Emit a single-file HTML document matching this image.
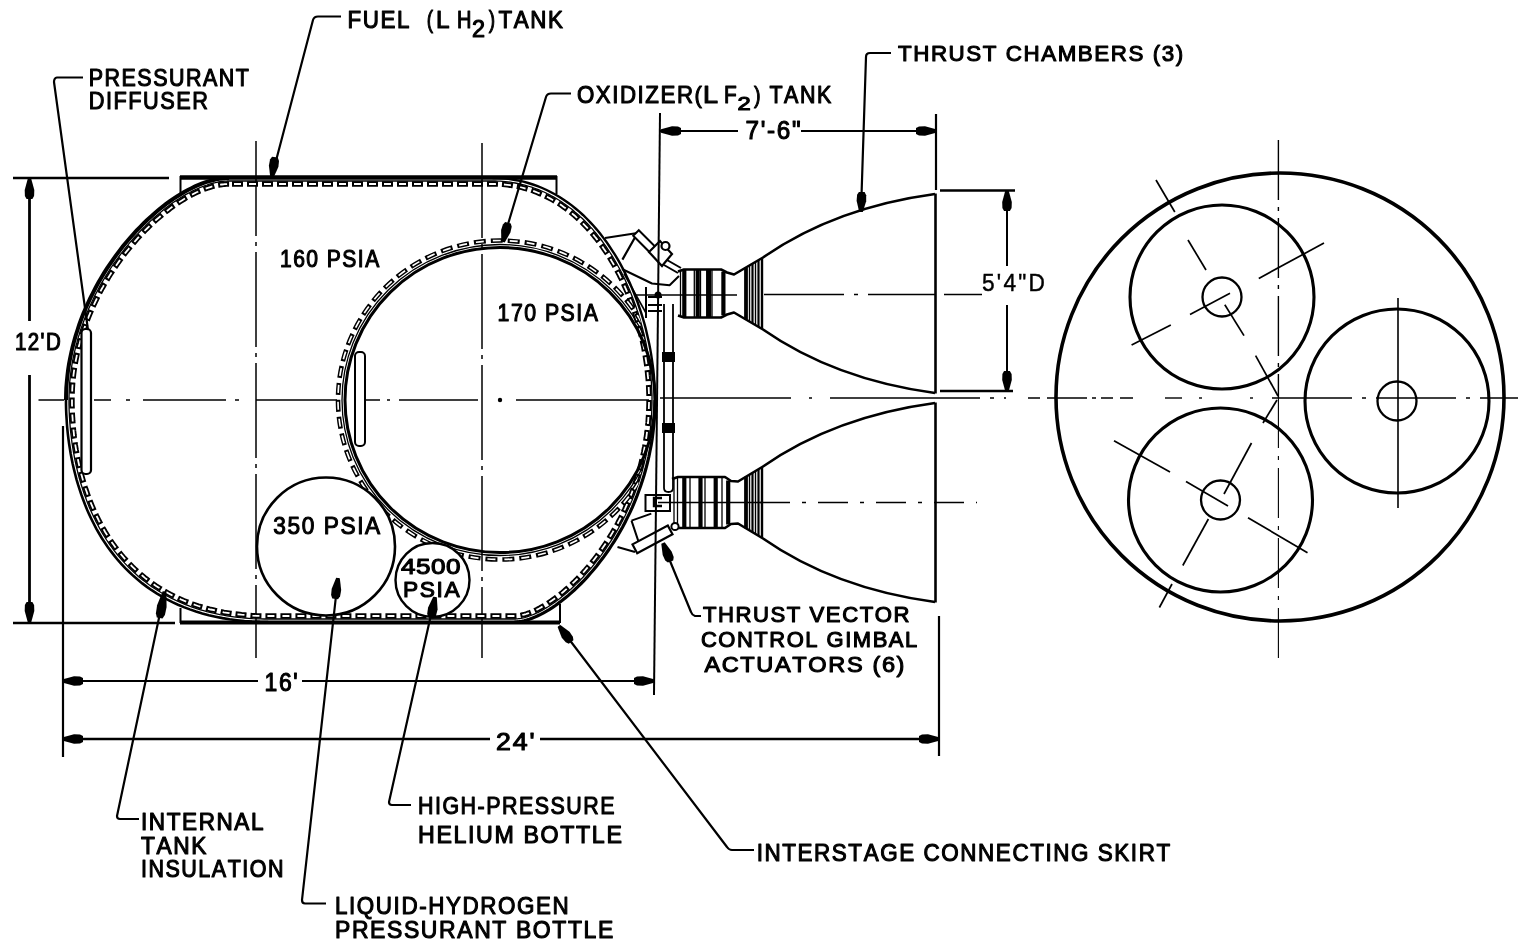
<!DOCTYPE html><html><head><meta charset="utf-8"><style>html,body{margin:0;padding:0;background:#fff;width:1523px;height:944px;overflow:hidden}svg{display:block;filter:grayscale(1)}text{font-family:"Liberation Sans",sans-serif;fill:#000;font-kerning:none;stroke:#000;stroke-width:0.1px}text.t{stroke-width:1.1px;stroke-linejoin:round}text.n{stroke-width:0.45px}</style></head><body>
<svg width="1523" height="944" viewBox="0 0 1523 944">
<defs><clipPath id="tk"><path d="M229.0 181.0 L227.5 181.0 L226.1 181.1 L224.6 181.2 L223.0 181.3 L221.5 181.5 L219.9 181.7 L218.4 182.0 L216.8 182.3 L215.2 182.7 L213.6 183.0 L211.9 183.5 L210.3 183.9 L208.6 184.4 L207.0 185.0 L205.3 185.5 L203.6 186.2 L201.9 186.8 L200.1 187.5 L198.4 188.3 L196.7 189.0 L194.9 189.8 L193.2 190.7 L191.4 191.6 L189.7 192.5 L187.9 193.4 L186.1 194.4 L184.3 195.4 L182.5 196.5 L180.7 197.6 L179.0 198.7 L177.2 199.9 L175.4 201.1 L173.5 202.3 L171.7 203.6 L169.9 204.9 L168.1 206.2 L166.3 207.6 L164.5 209.0 L162.7 210.4 L160.9 211.9 L159.1 213.4 L157.3 214.9 L155.5 216.4 L153.7 218.0 L152.0 219.6 L150.2 221.3 L148.4 222.9 L146.6 224.6 L144.9 226.4 L143.1 228.1 L141.4 229.9 L139.7 231.7 L137.9 233.6 L136.2 235.4 L134.5 237.3 L132.8 239.2 L131.1 241.2 L129.4 243.2 L127.8 245.2 L126.1 247.2 L124.5 249.2 L122.9 251.3 L121.3 253.4 L119.7 255.5 L118.1 257.7 L116.5 259.8 L115.0 262.0 L113.4 264.2 L111.9 266.5 L110.4 268.7 L108.9 271.0 L107.5 273.3 L106.0 275.6 L104.6 278.0 L103.2 280.3 L101.8 282.7 L100.4 285.1 L99.1 287.6 L97.8 290.0 L96.5 292.5 L95.2 294.9 L94.0 297.4 L92.8 300.0 L91.6 302.5 L90.4 305.1 L89.2 307.6 L88.1 310.2 L87.0 312.8 L85.9 315.4 L84.9 318.1 L83.9 320.7 L82.9 323.4 L81.9 326.1 L81.0 328.8 L80.1 331.5 L79.3 334.2 L78.4 336.9 L77.6 339.7 L76.9 342.5 L76.1 345.2 L75.4 348.0 L74.8 350.8 L74.1 353.6 L73.5 356.5 L72.9 359.3 L72.4 362.1 L71.9 365.0 L71.5 367.9 L71.0 370.7 L70.7 373.6 L70.3 376.5 L70.0 379.4 L69.7 382.3 L69.5 385.3 L69.3 388.2 L69.2 391.1 L69.1 394.1 L69.0 397.0 L69.0 400.0 L69.0 402.3 L69.0 404.6 L69.1 406.9 L69.1 409.2 L69.2 411.5 L69.3 413.9 L69.4 416.2 L69.6 418.6 L69.7 421.0 L69.9 423.4 L70.1 425.8 L70.3 428.2 L70.5 430.6 L70.8 433.1 L71.1 435.5 L71.4 438.0 L71.7 440.4 L72.0 442.9 L72.4 445.4 L72.8 447.8 L73.2 450.3 L73.6 452.8 L74.1 455.3 L74.5 457.8 L75.0 460.3 L75.6 462.8 L76.1 465.3 L76.7 467.8 L77.3 470.3 L77.9 472.8 L78.5 475.3 L79.2 477.8 L79.9 480.3 L80.6 482.8 L81.4 485.3 L82.2 487.7 L83.0 490.2 L83.8 492.7 L84.7 495.2 L85.6 497.6 L86.5 500.1 L87.4 502.5 L88.4 504.9 L89.4 507.4 L90.4 509.8 L91.5 512.2 L92.6 514.6 L93.7 517.0 L94.9 519.3 L96.0 521.7 L97.3 524.0 L98.5 526.3 L99.8 528.7 L101.1 530.9 L102.4 533.2 L103.8 535.5 L105.2 537.7 L106.6 540.0 L108.1 542.2 L109.6 544.4 L111.2 546.5 L112.7 548.7 L114.3 550.8 L116.0 552.9 L117.6 555.0 L119.4 557.1 L121.1 559.1 L122.9 561.1 L124.7 563.1 L126.6 565.1 L128.4 567.1 L130.4 569.0 L132.3 570.9 L134.3 572.7 L136.4 574.6 L138.4 576.4 L140.6 578.2 L142.7 579.9 L144.9 581.6 L147.1 583.3 L149.4 585.0 L151.7 586.6 L154.1 588.2 L156.5 589.8 L158.9 591.3 L161.4 592.8 L163.9 594.2 L166.4 595.7 L169.0 597.0 L171.7 598.4 L174.4 599.7 L177.1 601.0 L179.8 602.2 L182.7 603.4 L185.5 604.6 L188.4 605.7 L191.4 606.8 L194.4 607.8 L197.4 608.8 L200.5 609.8 L203.6 610.7 L206.8 611.6 L210.0 612.4 L213.3 613.2 L216.6 613.9 L220.0 614.6 L223.4 615.2 L226.8 615.8 L230.3 616.4 L233.9 616.8 L237.5 617.3 L241.2 617.7 L244.9 618.0 L248.6 618.3 L252.5 618.6 L256.3 618.8 L260.2 618.9 L264.2 619.0 L268.2 619.0 L272.4 619.0 L276.5 619.0 L280.7 619.0 L284.9 619.0 L289.1 619.0 L293.2 619.0 L297.4 619.0 L301.6 619.0 L305.8 619.0 L309.9 619.0 L314.1 619.0 L318.3 619.0 L322.5 619.0 L326.6 619.0 L330.8 619.0 L335.0 619.0 L339.2 619.0 L343.3 619.0 L347.5 619.0 L351.7 619.0 L355.9 619.0 L360.0 619.0 L364.2 619.0 L368.4 619.0 L372.6 619.0 L376.7 619.0 L380.9 619.0 L385.1 619.0 L389.3 619.0 L393.4 619.0 L397.6 619.0 L401.8 619.0 L406.0 619.0 L410.1 619.0 L414.3 619.0 L418.5 619.0 L422.7 619.0 L426.8 619.0 L431.0 619.0 L435.2 619.0 L439.4 619.0 L443.5 619.0 L447.7 619.0 L451.9 619.0 L456.1 619.0 L460.2 619.0 L464.4 619.0 L468.6 619.0 L472.8 619.0 L476.9 619.0 L481.1 619.0 L485.3 619.0 L489.5 619.0 L493.6 619.0 L497.8 619.0 L502.0 619.0 L506.2 619.0 L510.3 619.0 L514.5 619.0 L515.5 619.0 L516.6 618.9 L517.6 618.8 L518.7 618.7 L519.8 618.6 L521.0 618.4 L522.2 618.1 L523.3 617.9 L524.6 617.6 L525.8 617.2 L527.0 616.8 L528.3 616.4 L529.6 616.0 L530.9 615.5 L532.2 615.0 L533.6 614.4 L534.9 613.8 L536.3 613.2 L537.7 612.6 L539.1 611.9 L540.5 611.1 L541.9 610.4 L543.3 609.6 L544.8 608.7 L546.2 607.9 L547.7 607.0 L549.2 606.0 L550.7 605.0 L552.2 604.0 L553.7 603.0 L555.2 601.9 L556.7 600.8 L558.2 599.7 L559.8 598.5 L561.3 597.3 L562.8 596.1 L564.4 594.8 L565.9 593.5 L567.5 592.2 L569.0 590.8 L570.6 589.5 L572.1 588.0 L573.7 586.6 L575.2 585.1 L576.8 583.6 L578.3 582.0 L579.9 580.5 L581.4 578.9 L583.0 577.2 L584.5 575.6 L586.0 573.9 L587.6 572.1 L589.1 570.4 L590.6 568.6 L592.1 566.8 L593.6 565.0 L595.1 563.1 L596.6 561.2 L598.1 559.3 L599.6 557.3 L601.1 555.4 L602.5 553.4 L604.0 551.3 L605.4 549.3 L606.8 547.2 L608.2 545.1 L609.6 542.9 L611.0 540.8 L612.4 538.6 L613.8 536.4 L615.1 534.1 L616.4 531.9 L617.7 529.6 L619.0 527.2 L620.3 524.9 L621.6 522.5 L622.8 520.1 L624.0 517.7 L625.3 515.3 L626.4 512.8 L627.6 510.3 L628.8 507.8 L629.9 505.3 L631.0 502.7 L632.1 500.2 L633.1 497.6 L634.2 494.9 L635.2 492.3 L636.2 489.6 L637.1 486.9 L638.1 484.2 L639.0 481.5 L639.9 478.7 L640.7 475.9 L641.6 473.1 L642.4 470.3 L643.1 467.5 L643.9 464.6 L644.6 461.7 L645.3 458.8 L646.0 455.9 L646.6 452.9 L647.2 450.0 L647.7 447.0 L648.3 444.0 L648.8 441.0 L649.2 437.9 L649.7 434.9 L650.1 431.8 L650.4 428.7 L650.8 425.6 L651.0 422.4 L651.3 419.3 L651.5 416.1 L651.7 412.9 L651.8 409.7 L651.9 406.5 L652.0 403.3 L652.0 400.0 L652.0 397.6 L652.0 395.1 L651.9 392.7 L651.8 390.2 L651.7 387.7 L651.6 385.2 L651.4 382.8 L651.2 380.3 L651.0 377.8 L650.8 375.2 L650.6 372.7 L650.3 370.2 L650.0 367.7 L649.7 365.1 L649.3 362.6 L649.0 360.0 L648.6 357.5 L648.2 355.0 L647.8 352.4 L647.3 349.8 L646.8 347.3 L646.3 344.7 L645.8 342.2 L645.2 339.6 L644.7 337.1 L644.1 334.5 L643.4 332.0 L642.8 329.5 L642.1 326.9 L641.4 324.4 L640.7 321.9 L640.0 319.3 L639.2 316.8 L638.5 314.3 L637.7 311.8 L636.8 309.3 L636.0 306.8 L635.1 304.3 L634.2 301.8 L633.3 299.4 L632.4 296.9 L631.4 294.5 L630.4 292.1 L629.4 289.6 L628.4 287.2 L627.3 284.8 L626.3 282.5 L625.2 280.1 L624.1 277.7 L622.9 275.4 L621.8 273.1 L620.6 270.8 L619.4 268.5 L618.1 266.2 L616.9 264.0 L615.6 261.7 L614.3 259.5 L613.0 257.3 L611.7 255.2 L610.3 253.0 L608.9 250.9 L607.5 248.8 L606.1 246.7 L604.6 244.6 L603.2 242.6 L601.7 240.5 L600.2 238.5 L598.6 236.6 L597.1 234.6 L595.5 232.7 L593.9 230.8 L592.3 228.9 L590.6 227.1 L589.0 225.3 L587.3 223.5 L585.6 221.8 L583.9 220.0 L582.1 218.3 L580.3 216.7 L578.5 215.0 L576.7 213.4 L574.9 211.9 L573.1 210.3 L571.2 208.8 L569.3 207.4 L567.4 205.9 L565.4 204.5 L563.5 203.2 L561.5 201.8 L559.5 200.5 L557.5 199.3 L555.5 198.1 L553.4 196.9 L551.3 195.7 L549.2 194.6 L547.1 193.6 L545.0 192.5 L542.8 191.5 L540.6 190.6 L538.4 189.7 L536.2 188.8 L533.9 188.0 L531.7 187.2 L529.4 186.5 L527.1 185.8 L524.8 185.2 L522.4 184.6 L520.0 184.0 L517.6 183.5 L515.2 183.0 L512.8 182.6 L510.4 182.2 L507.9 181.9 L505.4 181.6 L502.9 181.4 L500.3 181.2 L497.8 181.1 L495.2 181.0 L492.6 181.0 L488.1 181.0 L483.7 181.0 L479.2 181.0 L474.7 181.0 L470.3 181.0 L465.8 181.0 L461.3 181.0 L456.9 181.0 L452.4 181.0 L447.9 181.0 L443.5 181.0 L439.0 181.0 L434.5 181.0 L430.1 181.0 L425.6 181.0 L421.1 181.0 L416.6 181.0 L412.2 181.0 L407.7 181.0 L403.2 181.0 L398.8 181.0 L394.3 181.0 L389.8 181.0 L385.4 181.0 L380.9 181.0 L376.4 181.0 L372.0 181.0 L367.5 181.0 L363.0 181.0 L358.6 181.0 L354.1 181.0 L349.6 181.0 L345.2 181.0 L340.7 181.0 L336.2 181.0 L331.8 181.0 L327.3 181.0 L322.8 181.0 L318.4 181.0 L313.9 181.0 L309.4 181.0 L305.0 181.0 L300.5 181.0 L296.0 181.0 L291.5 181.0 L287.1 181.0 L282.6 181.0 L278.1 181.0 L273.7 181.0 L269.2 181.0 L264.7 181.0 L260.3 181.0 L255.8 181.0 L251.3 181.0 L246.9 181.0 L242.4 181.0 L237.9 181.0 L233.5 181.0 L229.0 181.0 Z"/></clipPath></defs>
<rect width="100%" height="100%" fill="#fff"/>
<g stroke="#000" fill="none" stroke-linecap="butt">
<path d="M38.5 400 H64 M94 400 H111 M126 400 H130 M143 400 H226 M235 400 H239 M256 400 H337 M365 400 H380 M387 400 H390 M399 400 H478 M516 400 H649" stroke-width="1.6"/>
<circle cx="500" cy="400" r="2.2" fill="#000" stroke="none"/>
<line x1="660.0" y1="398.0" x2="791.0" y2="398.0" stroke-width="1.5"/>
<line x1="809.0" y1="398.0" x2="812.0" y2="398.0" stroke-width="1.5"/>
<line x1="830.0" y1="398.0" x2="1006.0" y2="398.0" stroke-width="1.5" stroke-dasharray="150 10 4 10"/>
<line x1="1028.0" y1="398.0" x2="1133.0" y2="398.0" stroke-width="1.4" stroke-dasharray="12 7 40 5 4 5"/>
<line x1="1165.0" y1="398.0" x2="1182.0" y2="398.0" stroke-width="1.4"/>
<line x1="1199.0" y1="398.0" x2="1202.0" y2="398.0" stroke-width="1.4"/>
<line x1="1250.0" y1="398.0" x2="1253.0" y2="398.0" stroke-width="1.4"/>
<line x1="1272.0" y1="398.0" x2="1518.0" y2="398.0" stroke-width="1.4" stroke-dasharray="80 10 4 10"/>
<line x1="256.0" y1="141.0" x2="256.0" y2="658.0" stroke-width="1.5" stroke-dasharray="95 6 4 6"/>
<line x1="482.0" y1="143.0" x2="482.0" y2="658.0" stroke-width="1.5" stroke-dasharray="95 6 4 6"/>
<line x1="944.0" y1="294.5" x2="982.0" y2="294.5" stroke-width="1.6"/>
<line x1="764.0" y1="294.5" x2="935.0" y2="294.5" stroke-width="1.4" stroke-dasharray="80 10 4 10"/>
<line x1="760.0" y1="502.5" x2="977.0" y2="502.5" stroke-width="1.6" stroke-dasharray="30 12 4 12"/>
<line x1="180.0" y1="177.5" x2="557.0" y2="177.5" stroke-width="4.5"/>
<line x1="180.0" y1="622.5" x2="560.0" y2="622.5" stroke-width="4.0"/>
<line x1="180.5" y1="176.0" x2="180.5" y2="195.0" stroke-width="2.0"/>
<line x1="556.5" y1="176.0" x2="556.5" y2="194.0" stroke-width="2.0"/>
<line x1="180.5" y1="623.0" x2="180.5" y2="608.0" stroke-width="2.0"/>
<line x1="560.0" y1="623.0" x2="560.0" y2="604.0" stroke-width="2.0"/>
<path d="M229.0 178.0 L225.9 178.1 L222.7 178.4 L219.4 178.8 L216.1 179.4 L212.7 180.2 L209.3 181.1 L205.8 182.2 L202.3 183.4 L198.7 184.9 L195.1 186.4 L191.5 188.2 L187.9 190.0 L184.2 192.0 L180.6 194.2 L176.9 196.5 L173.2 198.9 L169.5 201.5 L165.8 204.2 L162.1 207.1 L158.4 210.0 L154.7 213.2 L151.1 216.4 L147.4 219.7 L143.8 223.2 L140.3 226.8 L136.7 230.5 L133.2 234.3 L129.7 238.2 L126.3 242.2 L122.9 246.3 L119.6 250.6 L116.4 254.9 L113.2 259.3 L110.1 263.8 L107.0 268.4 L104.0 273.1 L101.1 277.9 L98.3 282.8 L95.6 287.8 L93.0 292.8 L90.4 297.9 L88.0 303.1 L85.7 308.3 L83.4 313.6 L81.3 319.0 L79.3 324.5 L77.5 330.0 L75.7 335.6 L74.1 341.2 L72.6 346.9 L71.3 352.6 L70.1 358.4 L69.0 364.2 L68.1 370.1 L67.4 376.0 L66.8 381.9 L66.3 387.9 L66.1 393.9 L66.0 400.0" stroke-width="4"/>
<path d="M66.0 400.0 L66.0 404.6 L66.1 409.3 L66.3 414.1 L66.6 418.9 L66.9 423.8 L67.3 428.7 L67.8 433.7 L68.4 438.7 L69.1 443.7 L69.9 448.7 L70.7 453.8 L71.7 458.9 L72.7 464.0 L73.9 469.1 L75.2 474.2 L76.5 479.3 L78.0 484.4 L79.6 489.4 L81.3 494.5 L83.1 499.5 L85.0 504.5 L87.0 509.4 L89.2 514.4 L91.5 519.2 L93.9 524.0 L96.4 528.8 L99.1 533.5 L101.9 538.2 L104.9 542.7 L107.9 547.2 L111.2 551.6 L114.5 555.9 L118.0 560.2 L121.7 564.3 L125.5 568.4 L129.5 572.3 L133.6 576.1 L137.9 579.8 L142.3 583.4 L146.9 586.9 L151.7 590.2 L156.6 593.4 L161.7 596.4 L167.0 599.4 L172.4 602.1 L178.0 604.7 L183.8 607.1 L189.8 609.4 L196.0 611.5 L202.3 613.4 L208.8 615.2 L215.6 616.7 L222.5 618.1 L229.6 619.3 L236.9 620.2 L244.4 621.0 L252.2 621.6 L260.1 621.9 L268.2 622.0" stroke-width="2.6"/>
<path d="M655.0 400.0 L655.0 395.0 L654.8 390.0 L654.6 385.0 L654.2 379.9 L653.8 374.7 L653.3 369.6 L652.6 364.4 L651.9 359.3 L651.1 354.1 L650.2 348.9 L649.2 343.7 L648.0 338.5 L646.8 333.3 L645.6 328.1 L644.2 322.9 L642.7 317.8 L641.1 312.7 L639.4 307.6 L637.7 302.5 L635.8 297.5 L633.8 292.5 L631.8 287.6 L629.7 282.7 L627.4 277.9 L625.1 273.1 L622.7 268.4 L620.2 263.7 L617.6 259.2 L614.9 254.7 L612.1 250.3 L609.2 246.0 L606.3 241.7 L603.2 237.6 L600.1 233.6 L596.8 229.6 L593.5 225.8 L590.1 222.1 L586.6 218.5 L583.0 215.0 L579.3 211.7 L575.5 208.5 L571.7 205.4 L567.7 202.5 L563.7 199.7 L559.5 197.0 L555.3 194.5 L551.0 192.2 L546.6 190.0 L542.2 188.0 L537.6 186.2 L532.9 184.5 L528.2 183.0 L523.4 181.7 L518.5 180.6 L513.5 179.7 L508.4 178.9 L503.2 178.4 L497.9 178.1 L492.6 178.0" stroke-width="2.4"/>
<path d="M514.5 622.0 L516.8 621.9 L519.1 621.7 L521.6 621.3 L524.1 620.8 L526.7 620.1 L529.4 619.2 L532.1 618.2 L534.9 617.1 L537.8 615.8 L540.7 614.4 L543.6 612.8 L546.6 611.1 L549.6 609.3 L552.7 607.3 L555.8 605.2 L558.9 602.9 L562.0 600.6 L565.2 598.0 L568.4 595.4 L571.5 592.6 L574.7 589.7 L577.9 586.7 L581.1 583.5 L584.2 580.3 L587.4 576.9 L590.5 573.3 L593.6 569.7 L596.7 566.0 L599.7 562.1 L602.8 558.1 L605.7 554.0 L608.7 549.8 L611.5 545.5 L614.4 541.1 L617.1 536.6 L619.8 531.9 L622.5 527.2 L625.0 522.4 L627.5 517.4 L630.0 512.4 L632.3 507.3 L634.5 502.1 L636.7 496.7 L638.7 491.3 L640.7 485.8 L642.5 480.2 L644.3 474.5 L645.9 468.8 L647.4 462.9 L648.8 457.0 L650.0 451.0 L651.2 444.9 L652.2 438.7 L653.0 432.4 L653.7 426.1 L654.3 419.7 L654.7 413.2 L654.9 406.6 L655.0 400.0" stroke-width="3.2"/>
<path d="M229.0 181.0 L227.5 181.0 L226.1 181.1 L224.6 181.2 L223.0 181.3 L221.5 181.5 L219.9 181.7 L218.4 182.0 L216.8 182.3 L215.2 182.7 L213.6 183.0 L211.9 183.5 L210.3 183.9 L208.6 184.4 L207.0 185.0 L205.3 185.5 L203.6 186.2 L201.9 186.8 L200.1 187.5 L198.4 188.3 L196.7 189.0 L194.9 189.8 L193.2 190.7 L191.4 191.6 L189.7 192.5 L187.9 193.4 L186.1 194.4 L184.3 195.4 L182.5 196.5 L180.7 197.6 L179.0 198.7 L177.2 199.9 L175.4 201.1 L173.5 202.3 L171.7 203.6 L169.9 204.9 L168.1 206.2 L166.3 207.6 L164.5 209.0 L162.7 210.4 L160.9 211.9 L159.1 213.4 L157.3 214.9 L155.5 216.4 L153.7 218.0 L152.0 219.6 L150.2 221.3 L148.4 222.9 L146.6 224.6 L144.9 226.4 L143.1 228.1 L141.4 229.9 L139.7 231.7 L137.9 233.6 L136.2 235.4 L134.5 237.3 L132.8 239.2 L131.1 241.2 L129.4 243.2 L127.8 245.2 L126.1 247.2 L124.5 249.2 L122.9 251.3 L121.3 253.4 L119.7 255.5 L118.1 257.7 L116.5 259.8 L115.0 262.0 L113.4 264.2 L111.9 266.5 L110.4 268.7 L108.9 271.0 L107.5 273.3 L106.0 275.6 L104.6 278.0 L103.2 280.3 L101.8 282.7 L100.4 285.1 L99.1 287.6 L97.8 290.0 L96.5 292.5 L95.2 294.9 L94.0 297.4 L92.8 300.0 L91.6 302.5 L90.4 305.1 L89.2 307.6 L88.1 310.2 L87.0 312.8 L85.9 315.4 L84.9 318.1 L83.9 320.7 L82.9 323.4 L81.9 326.1 L81.0 328.8 L80.1 331.5 L79.3 334.2 L78.4 336.9 L77.6 339.7 L76.9 342.5 L76.1 345.2 L75.4 348.0 L74.8 350.8 L74.1 353.6 L73.5 356.5 L72.9 359.3 L72.4 362.1 L71.9 365.0 L71.5 367.9 L71.0 370.7 L70.7 373.6 L70.3 376.5 L70.0 379.4 L69.7 382.3 L69.5 385.3 L69.3 388.2 L69.2 391.1 L69.1 394.1 L69.0 397.0 L69.0 400.0 L69.0 402.3 L69.0 404.6 L69.1 406.9 L69.1 409.2 L69.2 411.5 L69.3 413.9 L69.4 416.2 L69.6 418.6 L69.7 421.0 L69.9 423.4 L70.1 425.8 L70.3 428.2 L70.5 430.6 L70.8 433.1 L71.1 435.5 L71.4 438.0 L71.7 440.4 L72.0 442.9 L72.4 445.4 L72.8 447.8 L73.2 450.3 L73.6 452.8 L74.1 455.3 L74.5 457.8 L75.0 460.3 L75.6 462.8 L76.1 465.3 L76.7 467.8 L77.3 470.3 L77.9 472.8 L78.5 475.3 L79.2 477.8 L79.9 480.3 L80.6 482.8 L81.4 485.3 L82.2 487.7 L83.0 490.2 L83.8 492.7 L84.7 495.2 L85.6 497.6 L86.5 500.1 L87.4 502.5 L88.4 504.9 L89.4 507.4 L90.4 509.8 L91.5 512.2 L92.6 514.6 L93.7 517.0 L94.9 519.3 L96.0 521.7 L97.3 524.0 L98.5 526.3 L99.8 528.7 L101.1 530.9 L102.4 533.2 L103.8 535.5 L105.2 537.7 L106.6 540.0 L108.1 542.2 L109.6 544.4 L111.2 546.5 L112.7 548.7 L114.3 550.8 L116.0 552.9 L117.6 555.0 L119.4 557.1 L121.1 559.1 L122.9 561.1 L124.7 563.1 L126.6 565.1 L128.4 567.1 L130.4 569.0 L132.3 570.9 L134.3 572.7 L136.4 574.6 L138.4 576.4 L140.6 578.2 L142.7 579.9 L144.9 581.6 L147.1 583.3 L149.4 585.0 L151.7 586.6 L154.1 588.2 L156.5 589.8 L158.9 591.3 L161.4 592.8 L163.9 594.2 L166.4 595.7 L169.0 597.0 L171.7 598.4 L174.4 599.7 L177.1 601.0 L179.8 602.2 L182.7 603.4 L185.5 604.6 L188.4 605.7 L191.4 606.8 L194.4 607.8 L197.4 608.8 L200.5 609.8 L203.6 610.7 L206.8 611.6 L210.0 612.4 L213.3 613.2 L216.6 613.9 L220.0 614.6 L223.4 615.2 L226.8 615.8 L230.3 616.4 L233.9 616.8 L237.5 617.3 L241.2 617.7 L244.9 618.0 L248.6 618.3 L252.5 618.6 L256.3 618.8 L260.2 618.9 L264.2 619.0 L268.2 619.0 L272.4 619.0 L276.5 619.0 L280.7 619.0 L284.9 619.0 L289.1 619.0 L293.2 619.0 L297.4 619.0 L301.6 619.0 L305.8 619.0 L309.9 619.0 L314.1 619.0 L318.3 619.0 L322.5 619.0 L326.6 619.0 L330.8 619.0 L335.0 619.0 L339.2 619.0 L343.3 619.0 L347.5 619.0 L351.7 619.0 L355.9 619.0 L360.0 619.0 L364.2 619.0 L368.4 619.0 L372.6 619.0 L376.7 619.0 L380.9 619.0 L385.1 619.0 L389.3 619.0 L393.4 619.0 L397.6 619.0 L401.8 619.0 L406.0 619.0 L410.1 619.0 L414.3 619.0 L418.5 619.0 L422.7 619.0 L426.8 619.0 L431.0 619.0 L435.2 619.0 L439.4 619.0 L443.5 619.0 L447.7 619.0 L451.9 619.0 L456.1 619.0 L460.2 619.0 L464.4 619.0 L468.6 619.0 L472.8 619.0 L476.9 619.0 L481.1 619.0 L485.3 619.0 L489.5 619.0 L493.6 619.0 L497.8 619.0 L502.0 619.0 L506.2 619.0 L510.3 619.0 L514.5 619.0 L515.5 619.0 L516.6 618.9 L517.6 618.8 L518.7 618.7 L519.8 618.6 L521.0 618.4 L522.2 618.1 L523.3 617.9 L524.6 617.6 L525.8 617.2 L527.0 616.8 L528.3 616.4 L529.6 616.0 L530.9 615.5 L532.2 615.0 L533.6 614.4 L534.9 613.8 L536.3 613.2 L537.7 612.6 L539.1 611.9 L540.5 611.1 L541.9 610.4 L543.3 609.6 L544.8 608.7 L546.2 607.9 L547.7 607.0 L549.2 606.0 L550.7 605.0 L552.2 604.0 L553.7 603.0 L555.2 601.9 L556.7 600.8 L558.2 599.7 L559.8 598.5 L561.3 597.3 L562.8 596.1 L564.4 594.8 L565.9 593.5 L567.5 592.2 L569.0 590.8 L570.6 589.5 L572.1 588.0 L573.7 586.6 L575.2 585.1 L576.8 583.6 L578.3 582.0 L579.9 580.5 L581.4 578.9 L583.0 577.2 L584.5 575.6 L586.0 573.9 L587.6 572.1 L589.1 570.4 L590.6 568.6 L592.1 566.8 L593.6 565.0 L595.1 563.1 L596.6 561.2 L598.1 559.3 L599.6 557.3 L601.1 555.4 L602.5 553.4 L604.0 551.3 L605.4 549.3 L606.8 547.2 L608.2 545.1 L609.6 542.9 L611.0 540.8 L612.4 538.6 L613.8 536.4 L615.1 534.1 L616.4 531.9 L617.7 529.6 L619.0 527.2 L620.3 524.9 L621.6 522.5 L622.8 520.1 L624.0 517.7 L625.3 515.3 L626.4 512.8 L627.6 510.3 L628.8 507.8 L629.9 505.3 L631.0 502.7 L632.1 500.2 L633.1 497.6 L634.2 494.9 L635.2 492.3 L636.2 489.6 L637.1 486.9 L638.1 484.2 L639.0 481.5 L639.9 478.7 L640.7 475.9 L641.6 473.1 L642.4 470.3 L643.1 467.5 L643.9 464.6 L644.6 461.7 L645.3 458.8 L646.0 455.9 L646.6 452.9 L647.2 450.0 L647.7 447.0 L648.3 444.0 L648.8 441.0 L649.2 437.9 L649.7 434.9 L650.1 431.8 L650.4 428.7 L650.8 425.6 L651.0 422.4 L651.3 419.3 L651.5 416.1 L651.7 412.9 L651.8 409.7 L651.9 406.5 L652.0 403.3 L652.0 400.0 L652.0 397.6 L652.0 395.1 L651.9 392.7 L651.8 390.2 L651.7 387.7 L651.6 385.2 L651.4 382.8 L651.2 380.3 L651.0 377.8 L650.8 375.2 L650.6 372.7 L650.3 370.2 L650.0 367.7 L649.7 365.1 L649.3 362.6 L649.0 360.0 L648.6 357.5 L648.2 355.0 L647.8 352.4 L647.3 349.8 L646.8 347.3 L646.3 344.7 L645.8 342.2 L645.2 339.6 L644.7 337.1 L644.1 334.5 L643.4 332.0 L642.8 329.5 L642.1 326.9 L641.4 324.4 L640.7 321.9 L640.0 319.3 L639.2 316.8 L638.5 314.3 L637.7 311.8 L636.8 309.3 L636.0 306.8 L635.1 304.3 L634.2 301.8 L633.3 299.4 L632.4 296.9 L631.4 294.5 L630.4 292.1 L629.4 289.6 L628.4 287.2 L627.3 284.8 L626.3 282.5 L625.2 280.1 L624.1 277.7 L622.9 275.4 L621.8 273.1 L620.6 270.8 L619.4 268.5 L618.1 266.2 L616.9 264.0 L615.6 261.7 L614.3 259.5 L613.0 257.3 L611.7 255.2 L610.3 253.0 L608.9 250.9 L607.5 248.8 L606.1 246.7 L604.6 244.6 L603.2 242.6 L601.7 240.5 L600.2 238.5 L598.6 236.6 L597.1 234.6 L595.5 232.7 L593.9 230.8 L592.3 228.9 L590.6 227.1 L589.0 225.3 L587.3 223.5 L585.6 221.8 L583.9 220.0 L582.1 218.3 L580.3 216.7 L578.5 215.0 L576.7 213.4 L574.9 211.9 L573.1 210.3 L571.2 208.8 L569.3 207.4 L567.4 205.9 L565.4 204.5 L563.5 203.2 L561.5 201.8 L559.5 200.5 L557.5 199.3 L555.5 198.1 L553.4 196.9 L551.3 195.7 L549.2 194.6 L547.1 193.6 L545.0 192.5 L542.8 191.5 L540.6 190.6 L538.4 189.7 L536.2 188.8 L533.9 188.0 L531.7 187.2 L529.4 186.5 L527.1 185.8 L524.8 185.2 L522.4 184.6 L520.0 184.0 L517.6 183.5 L515.2 183.0 L512.8 182.6 L510.4 182.2 L507.9 181.9 L505.4 181.6 L502.9 181.4 L500.3 181.2 L497.8 181.1 L495.2 181.0 L492.6 181.0 L488.1 181.0 L483.7 181.0 L479.2 181.0 L474.7 181.0 L470.3 181.0 L465.8 181.0 L461.3 181.0 L456.9 181.0 L452.4 181.0 L447.9 181.0 L443.5 181.0 L439.0 181.0 L434.5 181.0 L430.1 181.0 L425.6 181.0 L421.1 181.0 L416.6 181.0 L412.2 181.0 L407.7 181.0 L403.2 181.0 L398.8 181.0 L394.3 181.0 L389.8 181.0 L385.4 181.0 L380.9 181.0 L376.4 181.0 L372.0 181.0 L367.5 181.0 L363.0 181.0 L358.6 181.0 L354.1 181.0 L349.6 181.0 L345.2 181.0 L340.7 181.0 L336.2 181.0 L331.8 181.0 L327.3 181.0 L322.8 181.0 L318.4 181.0 L313.9 181.0 L309.4 181.0 L305.0 181.0 L300.5 181.0 L296.0 181.0 L291.5 181.0 L287.1 181.0 L282.6 181.0 L278.1 181.0 L273.7 181.0 L269.2 181.0 L264.7 181.0 L260.3 181.0 L255.8 181.0 L251.3 181.0 L246.9 181.0 L242.4 181.0 L237.9 181.0 L233.5 181.0 L229.0 181.0 Z" stroke-width="1.3"/>
<path d="M229.1 184.0 L227.6 184.0 L226.2 184.1 L224.8 184.2 L223.4 184.3 L221.9 184.5 L220.4 184.7 L218.9 185.0 L217.4 185.2 L215.8 185.6 L214.3 185.9 L212.7 186.4 L211.1 186.8 L209.5 187.3 L207.9 187.8 L206.3 188.4 L204.6 189.0 L203.0 189.6 L201.3 190.3 L199.6 191.0 L197.9 191.8 L196.2 192.5 L194.5 193.4 L192.8 194.2 L191.1 195.1 L189.3 196.1 L187.6 197.0 L185.8 198.0 L184.1 199.1 L182.3 200.2 L180.6 201.3 L178.8 202.4 L177.0 203.6 L175.3 204.8 L173.5 206.0 L171.7 207.3 L169.9 208.6 L168.2 210.0 L166.4 211.3 L164.6 212.7 L162.8 214.2 L161.1 215.7 L159.3 217.2 L157.5 218.7 L155.7 220.2 L154.0 221.8 L152.2 223.5 L150.5 225.1 L148.7 226.8 L147.0 228.5 L145.3 230.2 L143.5 232.0 L141.8 233.8 L140.1 235.6 L138.4 237.4 L136.7 239.3 L135.1 241.2 L133.4 243.1 L131.7 245.1 L130.1 247.1 L128.5 249.1 L126.8 251.1 L125.2 253.1 L123.6 255.2 L122.1 257.3 L120.5 259.4 L118.9 261.6 L117.4 263.7 L115.9 265.9 L114.4 268.1 L112.9 270.4 L111.5 272.6 L110.0 274.9 L108.6 277.2 L107.2 279.5 L105.8 281.9 L104.4 284.2 L103.1 286.6 L101.7 289.0 L100.4 291.4 L99.2 293.8 L97.9 296.3 L96.7 298.8 L95.5 301.3 L94.3 303.8 L93.1 306.3 L92.0 308.8 L90.9 311.4 L89.8 314.0 L88.7 316.6 L87.7 319.2 L86.7 321.8 L85.7 324.4 L84.8 327.1 L83.9 329.7 L83.0 332.4 L82.1 335.1 L81.3 337.8 L80.5 340.5 L79.8 343.2 L79.0 346.0 L78.3 348.7 L77.7 351.5 L77.0 354.3 L76.5 357.1 L75.9 359.9 L75.4 362.7 L74.9 365.5 L74.4 368.3 L74.0 371.2 L73.6 374.0 L73.3 376.9 L73.0 379.7 L72.7 382.6 L72.5 385.5 L72.3 388.4 L72.2 391.3 L72.1 394.2 L72.0 397.1 L72.0 400.0 L72.0 402.2 L72.0 404.5 L72.1 406.8 L72.1 409.1 L72.2 411.4 L72.3 413.7 L72.4 416.1 L72.6 418.4 L72.7 420.8 L72.9 423.1 L73.1 425.5 L73.3 427.9 L73.5 430.3 L73.8 432.7 L74.0 435.2 L74.3 437.6 L74.7 440.0 L75.0 442.5 L75.3 444.9 L75.7 447.4 L76.1 449.8 L76.6 452.3 L77.0 454.8 L77.5 457.2 L78.0 459.7 L78.5 462.2 L79.0 464.6 L79.6 467.1 L80.2 469.6 L80.8 472.1 L81.4 474.5 L82.1 477.0 L82.8 479.5 L83.5 481.9 L84.3 484.4 L85.0 486.8 L85.8 489.3 L86.7 491.7 L87.5 494.2 L88.4 496.6 L89.3 499.0 L90.2 501.4 L91.2 503.8 L92.2 506.2 L93.2 508.6 L94.2 511.0 L95.3 513.3 L96.4 515.7 L97.6 518.0 L98.7 520.3 L99.9 522.6 L101.1 524.9 L102.4 527.2 L103.7 529.4 L105.0 531.7 L106.4 533.9 L107.7 536.1 L109.2 538.3 L110.6 540.5 L112.1 542.7 L113.6 544.8 L115.1 546.9 L116.7 549.0 L118.3 551.1 L120.0 553.1 L121.7 555.2 L123.4 557.2 L125.1 559.1 L126.9 561.1 L128.7 563.0 L130.6 564.9 L132.5 566.8 L134.4 568.7 L136.4 570.5 L138.4 572.3 L140.4 574.1 L142.5 575.8 L144.6 577.6 L146.7 579.2 L148.9 580.9 L151.2 582.5 L153.4 584.1 L155.7 585.7 L158.1 587.2 L160.5 588.7 L162.9 590.2 L165.4 591.6 L167.9 593.0 L170.4 594.4 L173.0 595.7 L175.6 597.0 L178.3 598.3 L181.0 599.5 L183.8 600.7 L186.6 601.8 L189.5 602.9 L192.4 604.0 L195.3 605.0 L198.3 606.0 L201.3 606.9 L204.4 607.8 L207.6 608.7 L210.7 609.5 L214.0 610.2 L217.2 611.0 L220.5 611.6 L223.9 612.3 L227.3 612.8 L230.8 613.4 L234.3 613.9 L237.9 614.3 L241.5 614.7 L245.1 615.0 L248.9 615.3 L252.6 615.6 L256.4 615.8 L260.3 615.9 L264.2 616.0 L268.2 616.0 L272.4 616.0 L276.5 616.0 L280.7 616.0 L284.9 616.0 L289.1 616.0 L293.2 616.0 L297.4 616.0 L301.6 616.0 L305.8 616.0 L309.9 616.0 L314.1 616.0 L318.3 616.0 L322.5 616.0 L326.6 616.0 L330.8 616.0 L335.0 616.0 L339.2 616.0 L343.3 616.0 L347.5 616.0 L351.7 616.0 L355.9 616.0 L360.0 616.0 L364.2 616.0 L368.4 616.0 L372.6 616.0 L376.7 616.0 L380.9 616.0 L385.1 616.0 L389.3 616.0 L393.4 616.0 L397.6 616.0 L401.8 616.0 L406.0 616.0 L410.1 616.0 L414.3 616.0 L418.5 616.0 L422.7 616.0 L426.8 616.0 L431.0 616.0 L435.2 616.0 L439.4 616.0 L443.5 616.0 L447.7 616.0 L451.9 616.0 L456.1 616.0 L460.2 616.0 L464.4 616.0 L468.6 616.0 L472.8 616.0 L476.9 616.0 L481.1 616.0 L485.3 616.0 L489.5 616.0 L493.6 616.0 L497.8 616.0 L502.0 616.0 L506.2 616.0 L510.3 616.0 L514.5 616.0 L515.4 616.0 L516.4 615.9 L517.3 615.9 L518.3 615.7 L519.4 615.6 L520.4 615.4 L521.5 615.2 L522.6 614.9 L523.8 614.7 L525.0 614.3 L526.1 614.0 L527.3 613.6 L528.6 613.2 L529.8 612.7 L531.1 612.2 L532.4 611.7 L533.7 611.1 L535.0 610.5 L536.4 609.9 L537.7 609.2 L539.1 608.5 L540.5 607.7 L541.9 606.9 L543.3 606.1 L544.7 605.3 L546.1 604.4 L547.6 603.5 L549.0 602.5 L550.5 601.6 L552.0 600.5 L553.4 599.5 L554.9 598.4 L556.4 597.3 L557.9 596.2 L559.4 595.0 L560.9 593.8 L562.5 592.5 L564.0 591.2 L565.5 589.9 L567.0 588.6 L568.6 587.2 L570.1 585.8 L571.6 584.4 L573.1 582.9 L574.7 581.4 L576.2 579.9 L577.7 578.4 L579.2 576.8 L580.8 575.2 L582.3 573.5 L583.8 571.9 L585.3 570.2 L586.8 568.4 L588.3 566.7 L589.8 564.9 L591.3 563.1 L592.8 561.2 L594.3 559.4 L595.7 557.5 L597.2 555.5 L598.6 553.6 L600.1 551.6 L601.5 549.6 L602.9 547.6 L604.3 545.5 L605.7 543.4 L607.1 541.3 L608.5 539.2 L609.8 537.0 L611.2 534.8 L612.5 532.6 L613.8 530.3 L615.1 528.1 L616.4 525.8 L617.7 523.5 L618.9 521.1 L620.2 518.8 L621.4 516.4 L622.6 514.0 L623.7 511.5 L624.9 509.1 L626.0 506.6 L627.1 504.1 L628.2 501.6 L629.3 499.0 L630.3 496.4 L631.4 493.8 L632.4 491.2 L633.4 488.6 L634.3 485.9 L635.2 483.2 L636.1 480.5 L637.0 477.8 L637.9 475.1 L638.7 472.3 L639.5 469.5 L640.3 466.7 L641.0 463.9 L641.7 461.0 L642.4 458.1 L643.0 455.2 L643.7 452.3 L644.2 449.4 L644.8 446.5 L645.3 443.5 L645.8 440.5 L646.3 437.5 L646.7 434.5 L647.1 431.4 L647.4 428.4 L647.8 425.3 L648.1 422.2 L648.3 419.1 L648.5 415.9 L648.7 412.8 L648.8 409.6 L648.9 406.4 L649.0 403.2 L649.0 400.0 L649.0 397.6 L649.0 395.2 L648.9 392.8 L648.8 390.3 L648.7 387.9 L648.6 385.4 L648.4 383.0 L648.3 380.5 L648.1 378.0 L647.8 375.5 L647.6 373.0 L647.3 370.5 L647.0 368.0 L646.7 365.5 L646.4 363.0 L646.0 360.5 L645.6 358.0 L645.2 355.4 L644.8 352.9 L644.3 350.4 L643.9 347.9 L643.4 345.3 L642.8 342.8 L642.3 340.3 L641.7 337.8 L641.1 335.2 L640.5 332.7 L639.9 330.2 L639.2 327.7 L638.6 325.2 L637.9 322.7 L637.1 320.2 L636.4 317.7 L635.6 315.2 L634.8 312.7 L634.0 310.2 L633.2 307.8 L632.3 305.3 L631.4 302.9 L630.5 300.4 L629.6 298.0 L628.6 295.6 L627.7 293.2 L626.7 290.8 L625.6 288.4 L624.6 286.1 L623.5 283.7 L622.5 281.4 L621.4 279.0 L620.2 276.7 L619.1 274.4 L617.9 272.2 L616.7 269.9 L615.5 267.7 L614.3 265.4 L613.0 263.2 L611.7 261.1 L610.4 258.9 L609.1 256.7 L607.8 254.6 L606.4 252.5 L605.0 250.4 L603.6 248.4 L602.2 246.3 L600.7 244.3 L599.3 242.3 L597.8 240.4 L596.3 238.4 L594.7 236.5 L593.2 234.6 L591.6 232.8 L590.0 230.9 L588.4 229.1 L586.8 227.3 L585.1 225.6 L583.4 223.9 L581.7 222.2 L580.0 220.5 L578.3 218.9 L576.5 217.3 L574.8 215.7 L573.0 214.2 L571.2 212.7 L569.3 211.2 L567.5 209.7 L565.6 208.3 L563.7 207.0 L561.8 205.6 L559.9 204.3 L557.9 203.1 L555.9 201.8 L553.9 200.6 L551.9 199.5 L549.9 198.4 L547.8 197.3 L545.8 196.3 L543.7 195.3 L541.6 194.3 L539.4 193.4 L537.3 192.5 L535.1 191.6 L532.9 190.8 L530.7 190.1 L528.5 189.4 L526.2 188.7 L524.0 188.1 L521.7 187.5 L519.4 186.9 L517.0 186.4 L514.7 186.0 L512.3 185.6 L509.9 185.2 L507.5 184.9 L505.1 184.6 L502.6 184.4 L500.2 184.2 L497.7 184.1 L495.1 184.0 L492.6 184.0 L488.1 184.0 L483.7 184.0 L479.2 184.0 L474.7 184.0 L470.3 184.0 L465.8 184.0 L461.3 184.0 L456.9 184.0 L452.4 184.0 L447.9 184.0 L443.5 184.0 L439.0 184.0 L434.5 184.0 L430.1 184.0 L425.6 184.0 L421.1 184.0 L416.6 184.0 L412.2 184.0 L407.7 184.0 L403.2 184.0 L398.8 184.0 L394.3 184.0 L389.8 184.0 L385.4 184.0 L380.9 184.0 L376.4 184.0 L372.0 184.0 L367.5 184.0 L363.0 184.0 L358.6 184.0 L354.1 184.0 L349.6 184.0 L345.2 184.0 L340.7 184.0 L336.2 184.0 L331.8 184.0 L327.3 184.0 L322.8 184.0 L318.4 184.0 L313.9 184.0 L309.4 184.0 L305.0 184.0 L300.5 184.0 L296.0 184.0 L291.5 184.0 L287.1 184.0 L282.6 184.0 L278.1 184.0 L273.7 184.0 L269.2 184.0 L264.7 184.0 L260.3 184.0 L255.8 184.0 L251.3 184.0 L246.9 184.0 L242.4 184.0 L237.9 184.0 L233.5 184.0 L229.0 184.0 Z" stroke-width="5.4" stroke-dasharray="11.0 4.0"/>
<path d="M229.1 184.0 L227.6 184.0 L226.2 184.1 L224.8 184.2 L223.4 184.3 L221.9 184.5 L220.4 184.7 L218.9 185.0 L217.4 185.2 L215.8 185.6 L214.3 185.9 L212.7 186.4 L211.1 186.8 L209.5 187.3 L207.9 187.8 L206.3 188.4 L204.6 189.0 L203.0 189.6 L201.3 190.3 L199.6 191.0 L197.9 191.8 L196.2 192.5 L194.5 193.4 L192.8 194.2 L191.1 195.1 L189.3 196.1 L187.6 197.0 L185.8 198.0 L184.1 199.1 L182.3 200.2 L180.6 201.3 L178.8 202.4 L177.0 203.6 L175.3 204.8 L173.5 206.0 L171.7 207.3 L169.9 208.6 L168.2 210.0 L166.4 211.3 L164.6 212.7 L162.8 214.2 L161.1 215.7 L159.3 217.2 L157.5 218.7 L155.7 220.2 L154.0 221.8 L152.2 223.5 L150.5 225.1 L148.7 226.8 L147.0 228.5 L145.3 230.2 L143.5 232.0 L141.8 233.8 L140.1 235.6 L138.4 237.4 L136.7 239.3 L135.1 241.2 L133.4 243.1 L131.7 245.1 L130.1 247.1 L128.5 249.1 L126.8 251.1 L125.2 253.1 L123.6 255.2 L122.1 257.3 L120.5 259.4 L118.9 261.6 L117.4 263.7 L115.9 265.9 L114.4 268.1 L112.9 270.4 L111.5 272.6 L110.0 274.9 L108.6 277.2 L107.2 279.5 L105.8 281.9 L104.4 284.2 L103.1 286.6 L101.7 289.0 L100.4 291.4 L99.2 293.8 L97.9 296.3 L96.7 298.8 L95.5 301.3 L94.3 303.8 L93.1 306.3 L92.0 308.8 L90.9 311.4 L89.8 314.0 L88.7 316.6 L87.7 319.2 L86.7 321.8 L85.7 324.4 L84.8 327.1 L83.9 329.7 L83.0 332.4 L82.1 335.1 L81.3 337.8 L80.5 340.5 L79.8 343.2 L79.0 346.0 L78.3 348.7 L77.7 351.5 L77.0 354.3 L76.5 357.1 L75.9 359.9 L75.4 362.7 L74.9 365.5 L74.4 368.3 L74.0 371.2 L73.6 374.0 L73.3 376.9 L73.0 379.7 L72.7 382.6 L72.5 385.5 L72.3 388.4 L72.2 391.3 L72.1 394.2 L72.0 397.1 L72.0 400.0 L72.0 402.2 L72.0 404.5 L72.1 406.8 L72.1 409.1 L72.2 411.4 L72.3 413.7 L72.4 416.1 L72.6 418.4 L72.7 420.8 L72.9 423.1 L73.1 425.5 L73.3 427.9 L73.5 430.3 L73.8 432.7 L74.0 435.2 L74.3 437.6 L74.7 440.0 L75.0 442.5 L75.3 444.9 L75.7 447.4 L76.1 449.8 L76.6 452.3 L77.0 454.8 L77.5 457.2 L78.0 459.7 L78.5 462.2 L79.0 464.6 L79.6 467.1 L80.2 469.6 L80.8 472.1 L81.4 474.5 L82.1 477.0 L82.8 479.5 L83.5 481.9 L84.3 484.4 L85.0 486.8 L85.8 489.3 L86.7 491.7 L87.5 494.2 L88.4 496.6 L89.3 499.0 L90.2 501.4 L91.2 503.8 L92.2 506.2 L93.2 508.6 L94.2 511.0 L95.3 513.3 L96.4 515.7 L97.6 518.0 L98.7 520.3 L99.9 522.6 L101.1 524.9 L102.4 527.2 L103.7 529.4 L105.0 531.7 L106.4 533.9 L107.7 536.1 L109.2 538.3 L110.6 540.5 L112.1 542.7 L113.6 544.8 L115.1 546.9 L116.7 549.0 L118.3 551.1 L120.0 553.1 L121.7 555.2 L123.4 557.2 L125.1 559.1 L126.9 561.1 L128.7 563.0 L130.6 564.9 L132.5 566.8 L134.4 568.7 L136.4 570.5 L138.4 572.3 L140.4 574.1 L142.5 575.8 L144.6 577.6 L146.7 579.2 L148.9 580.9 L151.2 582.5 L153.4 584.1 L155.7 585.7 L158.1 587.2 L160.5 588.7 L162.9 590.2 L165.4 591.6 L167.9 593.0 L170.4 594.4 L173.0 595.7 L175.6 597.0 L178.3 598.3 L181.0 599.5 L183.8 600.7 L186.6 601.8 L189.5 602.9 L192.4 604.0 L195.3 605.0 L198.3 606.0 L201.3 606.9 L204.4 607.8 L207.6 608.7 L210.7 609.5 L214.0 610.2 L217.2 611.0 L220.5 611.6 L223.9 612.3 L227.3 612.8 L230.8 613.4 L234.3 613.9 L237.9 614.3 L241.5 614.7 L245.1 615.0 L248.9 615.3 L252.6 615.6 L256.4 615.8 L260.3 615.9 L264.2 616.0 L268.2 616.0 L272.4 616.0 L276.5 616.0 L280.7 616.0 L284.9 616.0 L289.1 616.0 L293.2 616.0 L297.4 616.0 L301.6 616.0 L305.8 616.0 L309.9 616.0 L314.1 616.0 L318.3 616.0 L322.5 616.0 L326.6 616.0 L330.8 616.0 L335.0 616.0 L339.2 616.0 L343.3 616.0 L347.5 616.0 L351.7 616.0 L355.9 616.0 L360.0 616.0 L364.2 616.0 L368.4 616.0 L372.6 616.0 L376.7 616.0 L380.9 616.0 L385.1 616.0 L389.3 616.0 L393.4 616.0 L397.6 616.0 L401.8 616.0 L406.0 616.0 L410.1 616.0 L414.3 616.0 L418.5 616.0 L422.7 616.0 L426.8 616.0 L431.0 616.0 L435.2 616.0 L439.4 616.0 L443.5 616.0 L447.7 616.0 L451.9 616.0 L456.1 616.0 L460.2 616.0 L464.4 616.0 L468.6 616.0 L472.8 616.0 L476.9 616.0 L481.1 616.0 L485.3 616.0 L489.5 616.0 L493.6 616.0 L497.8 616.0 L502.0 616.0 L506.2 616.0 L510.3 616.0 L514.5 616.0 L515.4 616.0 L516.4 615.9 L517.3 615.9 L518.3 615.7 L519.4 615.6 L520.4 615.4 L521.5 615.2 L522.6 614.9 L523.8 614.7 L525.0 614.3 L526.1 614.0 L527.3 613.6 L528.6 613.2 L529.8 612.7 L531.1 612.2 L532.4 611.7 L533.7 611.1 L535.0 610.5 L536.4 609.9 L537.7 609.2 L539.1 608.5 L540.5 607.7 L541.9 606.9 L543.3 606.1 L544.7 605.3 L546.1 604.4 L547.6 603.5 L549.0 602.5 L550.5 601.6 L552.0 600.5 L553.4 599.5 L554.9 598.4 L556.4 597.3 L557.9 596.2 L559.4 595.0 L560.9 593.8 L562.5 592.5 L564.0 591.2 L565.5 589.9 L567.0 588.6 L568.6 587.2 L570.1 585.8 L571.6 584.4 L573.1 582.9 L574.7 581.4 L576.2 579.9 L577.7 578.4 L579.2 576.8 L580.8 575.2 L582.3 573.5 L583.8 571.9 L585.3 570.2 L586.8 568.4 L588.3 566.7 L589.8 564.9 L591.3 563.1 L592.8 561.2 L594.3 559.4 L595.7 557.5 L597.2 555.5 L598.6 553.6 L600.1 551.6 L601.5 549.6 L602.9 547.6 L604.3 545.5 L605.7 543.4 L607.1 541.3 L608.5 539.2 L609.8 537.0 L611.2 534.8 L612.5 532.6 L613.8 530.3 L615.1 528.1 L616.4 525.8 L617.7 523.5 L618.9 521.1 L620.2 518.8 L621.4 516.4 L622.6 514.0 L623.7 511.5 L624.9 509.1 L626.0 506.6 L627.1 504.1 L628.2 501.6 L629.3 499.0 L630.3 496.4 L631.4 493.8 L632.4 491.2 L633.4 488.6 L634.3 485.9 L635.2 483.2 L636.1 480.5 L637.0 477.8 L637.9 475.1 L638.7 472.3 L639.5 469.5 L640.3 466.7 L641.0 463.9 L641.7 461.0 L642.4 458.1 L643.0 455.2 L643.7 452.3 L644.2 449.4 L644.8 446.5 L645.3 443.5 L645.8 440.5 L646.3 437.5 L646.7 434.5 L647.1 431.4 L647.4 428.4 L647.8 425.3 L648.1 422.2 L648.3 419.1 L648.5 415.9 L648.7 412.8 L648.8 409.6 L648.9 406.4 L649.0 403.2 L649.0 400.0 L649.0 397.6 L649.0 395.2 L648.9 392.8 L648.8 390.3 L648.7 387.9 L648.6 385.4 L648.4 383.0 L648.3 380.5 L648.1 378.0 L647.8 375.5 L647.6 373.0 L647.3 370.5 L647.0 368.0 L646.7 365.5 L646.4 363.0 L646.0 360.5 L645.6 358.0 L645.2 355.4 L644.8 352.9 L644.3 350.4 L643.9 347.9 L643.4 345.3 L642.8 342.8 L642.3 340.3 L641.7 337.8 L641.1 335.2 L640.5 332.7 L639.9 330.2 L639.2 327.7 L638.6 325.2 L637.9 322.7 L637.1 320.2 L636.4 317.7 L635.6 315.2 L634.8 312.7 L634.0 310.2 L633.2 307.8 L632.3 305.3 L631.4 302.9 L630.5 300.4 L629.6 298.0 L628.6 295.6 L627.7 293.2 L626.7 290.8 L625.6 288.4 L624.6 286.1 L623.5 283.7 L622.5 281.4 L621.4 279.0 L620.2 276.7 L619.1 274.4 L617.9 272.2 L616.7 269.9 L615.5 267.7 L614.3 265.4 L613.0 263.2 L611.7 261.1 L610.4 258.9 L609.1 256.7 L607.8 254.6 L606.4 252.5 L605.0 250.4 L603.6 248.4 L602.2 246.3 L600.7 244.3 L599.3 242.3 L597.8 240.4 L596.3 238.4 L594.7 236.5 L593.2 234.6 L591.6 232.8 L590.0 230.9 L588.4 229.1 L586.8 227.3 L585.1 225.6 L583.4 223.9 L581.7 222.2 L580.0 220.5 L578.3 218.9 L576.5 217.3 L574.8 215.7 L573.0 214.2 L571.2 212.7 L569.3 211.2 L567.5 209.7 L565.6 208.3 L563.7 207.0 L561.8 205.6 L559.9 204.3 L557.9 203.1 L555.9 201.8 L553.9 200.6 L551.9 199.5 L549.9 198.4 L547.8 197.3 L545.8 196.3 L543.7 195.3 L541.6 194.3 L539.4 193.4 L537.3 192.5 L535.1 191.6 L532.9 190.8 L530.7 190.1 L528.5 189.4 L526.2 188.7 L524.0 188.1 L521.7 187.5 L519.4 186.9 L517.0 186.4 L514.7 186.0 L512.3 185.6 L509.9 185.2 L507.5 184.9 L505.1 184.6 L502.6 184.4 L500.2 184.2 L497.7 184.1 L495.1 184.0 L492.6 184.0 L488.1 184.0 L483.7 184.0 L479.2 184.0 L474.7 184.0 L470.3 184.0 L465.8 184.0 L461.3 184.0 L456.9 184.0 L452.4 184.0 L447.9 184.0 L443.5 184.0 L439.0 184.0 L434.5 184.0 L430.1 184.0 L425.6 184.0 L421.1 184.0 L416.6 184.0 L412.2 184.0 L407.7 184.0 L403.2 184.0 L398.8 184.0 L394.3 184.0 L389.8 184.0 L385.4 184.0 L380.9 184.0 L376.4 184.0 L372.0 184.0 L367.5 184.0 L363.0 184.0 L358.6 184.0 L354.1 184.0 L349.6 184.0 L345.2 184.0 L340.7 184.0 L336.2 184.0 L331.8 184.0 L327.3 184.0 L322.8 184.0 L318.4 184.0 L313.9 184.0 L309.4 184.0 L305.0 184.0 L300.5 184.0 L296.0 184.0 L291.5 184.0 L287.1 184.0 L282.6 184.0 L278.1 184.0 L273.7 184.0 L269.2 184.0 L264.7 184.0 L260.3 184.0 L255.8 184.0 L251.3 184.0 L246.9 184.0 L242.4 184.0 L237.9 184.0 L233.5 184.0 L229.0 184.0 Z" stroke-width="1.8" stroke="#fff" stroke-dasharray="7.0 8.0" stroke-dashoffset="-2.0"/>
<g clip-path="url(#tk)">
<ellipse cx="500" cy="400" rx="158" ry="155.5" stroke-width="1.3"/>
<ellipse cx="500" cy="400" rx="162" ry="159.5" stroke-width="4.6" stroke-dasharray="12 5"/>
<ellipse cx="500" cy="400" rx="162" ry="159.5" stroke-width="1.7" stroke="#fff" stroke-dasharray="8 9" stroke-dashoffset="-2"/>
</g>
<ellipse cx="500" cy="400" rx="155" ry="152.5" stroke-width="3"/>
<rect x="355" y="352" width="10" height="94" rx="4" stroke-width="2" fill="#fff"/>
<rect x="81.5" y="329" width="9.5" height="145" rx="4" stroke-width="2.2" fill="#fff"/>
<circle cx="326" cy="546.5" r="69" stroke-width="2.6" fill="#fff"/>
<circle cx="432.5" cy="580" r="37" stroke-width="2.4" fill="#fff"/>
</g>
<g stroke="#000" fill="none">
<path d="M678.0 271.5 L684.0 269.5 L721.0 269.5 L727.0 272.5 L734.0 274.5 L763 257.5 C796 234.5 850 205.5 935 194.0" stroke-width="2.6" stroke-linejoin="round"/>
<path d="M678.0 315.5 L684.0 317.5 L721.0 317.5 L727.0 314.5 L734.0 312.5 L763 329.5 C796 352.5 850 381.5 935 393.0" stroke-width="2.6" stroke-linejoin="round"/>
<line x1="680.5" y1="270.0" x2="680.5" y2="317.0" stroke-width="1.3"/>
<line x1="694.3" y1="270.0" x2="694.3" y2="317.0" stroke-width="1.3"/>
<line x1="700.5" y1="270.0" x2="700.5" y2="317.0" stroke-width="1.3"/>
<line x1="706.7" y1="270.0" x2="706.7" y2="317.0" stroke-width="1.3"/>
<line x1="712.0" y1="270.0" x2="712.0" y2="317.0" stroke-width="1.3"/>
<line x1="684.3" y1="269.0" x2="684.3" y2="318.0" stroke-width="4.2"/>
<line x1="697.7" y1="269.0" x2="697.7" y2="318.0" stroke-width="4.2"/>
<line x1="709.1" y1="269.0" x2="709.1" y2="318.0" stroke-width="4.2"/>
<line x1="723.4" y1="272.0" x2="723.4" y2="315.0" stroke-width="4.2"/>
<line x1="746.0" y1="267.5" x2="746.0" y2="319.5" stroke-width="3.8"/>
<line x1="749.5" y1="265.4" x2="749.5" y2="321.6" stroke-width="1.4"/>
<line x1="752.5" y1="263.7" x2="752.5" y2="323.3" stroke-width="2.2"/>
<line x1="755.5" y1="261.9" x2="755.5" y2="325.1" stroke-width="1.4"/>
<line x1="758.5" y1="260.1" x2="758.5" y2="326.9" stroke-width="2.2"/>
<line x1="762.0" y1="258.1" x2="762.0" y2="328.9" stroke-width="2.4"/>
<line x1="935.5" y1="193.5" x2="935.5" y2="393.5" stroke-width="2.6"/>
<path d="M672.0 479.0 L678.0 477.0 L725.0 477.0 L731.0 481.0 L738.0 481.5 L763 466.5 C796 443.5 850 414.5 935 403.0" stroke-width="2.6" stroke-linejoin="round"/>
<path d="M672.0 526.0 L678.0 528.0 L725.0 528.0 L731.0 524.0 L738.0 523.5 L763 538.5 C796 561.5 850 590.5 935 602.0" stroke-width="2.6" stroke-linejoin="round"/>
<line x1="674.0" y1="477.5" x2="674.0" y2="527.5" stroke-width="1.3"/>
<line x1="677.5" y1="477.5" x2="677.5" y2="527.5" stroke-width="1.3"/>
<line x1="690.0" y1="477.5" x2="690.0" y2="527.5" stroke-width="1.3"/>
<line x1="705.0" y1="477.5" x2="705.0" y2="527.5" stroke-width="1.3"/>
<line x1="722.0" y1="477.5" x2="722.0" y2="527.5" stroke-width="1.3"/>
<line x1="684.3" y1="476.5" x2="684.3" y2="528.5" stroke-width="4.2"/>
<line x1="700.5" y1="476.5" x2="700.5" y2="528.5" stroke-width="4.2"/>
<line x1="715.7" y1="476.5" x2="715.7" y2="528.5" stroke-width="4.2"/>
<line x1="728.2" y1="480.5" x2="728.2" y2="524.5" stroke-width="4.2"/>
<line x1="746.0" y1="476.7" x2="746.0" y2="528.3" stroke-width="3.8"/>
<line x1="749.5" y1="474.6" x2="749.5" y2="530.4" stroke-width="1.4"/>
<line x1="752.5" y1="472.8" x2="752.5" y2="532.2" stroke-width="2.2"/>
<line x1="755.5" y1="471.0" x2="755.5" y2="534.0" stroke-width="1.4"/>
<line x1="758.5" y1="469.2" x2="758.5" y2="535.8" stroke-width="2.2"/>
<line x1="762.0" y1="467.1" x2="762.0" y2="537.9" stroke-width="2.4"/>
<line x1="935.5" y1="402.5" x2="935.5" y2="602.5" stroke-width="2.6"/>
<line x1="634.0" y1="295.0" x2="737.0" y2="295.0" stroke-width="1.4"/>
<line x1="658.0" y1="502.5" x2="763.0" y2="502.5" stroke-width="1.4"/>
<path d="M664 304 L664 488 Q664 492 668.5 492 Q673 492 673 488 L673 304" stroke-width="1.8"/>
<rect x="662" y="352" width="13" height="10" fill="#000" stroke="none"/>
<rect x="662" y="423" width="13" height="10" fill="#000" stroke="none"/>
<path d="M605 238 L637.5 233 L622.4 259.6" stroke-width="2.2" stroke-linejoin="round"/>
<path d="M638.8 230.2 L655.8 247.2 L650.2 252.8 L633.2 235.8 Z" stroke-width="2" fill="#fff"/>
<path d="M649 252 L660 241 L672 254 L662 266 Z" stroke-width="2.2" fill="#fff"/>
<circle cx="665.5" cy="246" r="4" stroke-width="2.2" fill="#fff"/>
<path d="M667 260 L681 268 M664 265 L678 273" stroke-width="2"/>
<path d="M622 269 L652 283.5 L669.6 285.3 L679 276" stroke-width="2" stroke-linejoin="round"/>
<path d="M646 287 L646 318 M648 297 L662 297 M648 305 L662 305 M648 311 L662 311" stroke-width="2"/>
<circle cx="658" cy="295" r="3.5" fill="#000" stroke="none"/>
<path d="M624 273.6 L646 313" stroke-width="1.6"/>
<path d="M645.5 495 L670 495 L670 511 L645.5 511 Z" stroke-width="2"/>
<path d="M662 498 L654 498 L654 506 L662 506" stroke-width="2.4"/>
<path d="M617.5 547 L635 552 M631.5 520.6 L638.5 541.6 M631.5 520.6 L651.3 513.6" stroke-width="2" stroke-linejoin="round"/>
<path d="M632.5 544.4 L667.8 525.5 L672.5 534.3 L637.2 553.2 Z" stroke-width="2.2" fill="#fff"/>
<circle cx="675" cy="526.5" r="3.6" stroke-width="2" fill="#fff"/>
</g>
<g stroke="#000" fill="none">
<circle cx="1280" cy="397" r="224" stroke-width="3.6"/>
<circle cx="1222.0" cy="297.0" r="92" stroke-width="3.1"/>
<circle cx="1222.0" cy="297.0" r="19.5" stroke-width="2.3"/>
<circle cx="1397.0" cy="401.0" r="92" stroke-width="3.1"/>
<circle cx="1397.0" cy="401.0" r="19.5" stroke-width="2.3"/>
<circle cx="1220.5" cy="500.0" r="92" stroke-width="3.1"/>
<circle cx="1220.5" cy="500.0" r="19.5" stroke-width="2.3"/>
<line x1="1278.4" y1="140.0" x2="1278.4" y2="398.0" stroke-width="1.4" stroke-dasharray="60 7 4 7"/>
<line x1="1278.4" y1="398.0" x2="1278.4" y2="660.0" stroke-width="1.1" stroke-dasharray="50 8 4 8"/>
<line x1="1398.0" y1="298.0" x2="1398.0" y2="508.0" stroke-width="1.6"/>
<line x1="1156.0" y1="180.0" x2="1174.8" y2="212.0" stroke-width="1.7"/>
<line x1="1188.0" y1="240.0" x2="1206.0" y2="270.0" stroke-width="1.7"/>
<line x1="1224.8" y1="304.8" x2="1244.0" y2="335.6" stroke-width="1.7"/>
<line x1="1255.6" y1="355.7" x2="1278.0" y2="396.0" stroke-width="1.7"/>
<line x1="1131.6" y1="345.0" x2="1170.8" y2="325.0" stroke-width="1.7"/>
<line x1="1190.0" y1="314.4" x2="1230.0" y2="293.2" stroke-width="1.7"/>
<line x1="1258.8" y1="278.4" x2="1324.0" y2="243.0" stroke-width="1.7"/>
<line x1="1159.4" y1="607.5" x2="1172.0" y2="584.0" stroke-width="1.7"/>
<line x1="1182.8" y1="565.5" x2="1208.4" y2="519.0" stroke-width="1.7"/>
<line x1="1224.0" y1="494.0" x2="1251.5" y2="443.0" stroke-width="1.7"/>
<line x1="1263.0" y1="423.0" x2="1277.0" y2="400.0" stroke-width="1.7"/>
<line x1="1114.0" y1="440.8" x2="1170.0" y2="472.0" stroke-width="1.7"/>
<line x1="1186.0" y1="481.6" x2="1228.0" y2="506.0" stroke-width="1.7"/>
<line x1="1248.0" y1="517.7" x2="1307.5" y2="552.7" stroke-width="1.7"/>
</g>
<g stroke="#000" fill="none">
<line x1="13.0" y1="178.0" x2="169.0" y2="178.0" stroke-width="2.6"/>
<line x1="13.0" y1="623.0" x2="175.0" y2="623.0" stroke-width="2.6"/>
<line x1="29.5" y1="178.0" x2="29.5" y2="321.0" stroke-width="2.8"/>
<line x1="29.5" y1="375.0" x2="29.5" y2="622.0" stroke-width="2.8"/>
<line x1="63.0" y1="426.0" x2="63.0" y2="757.0" stroke-width="2.2"/>
<line x1="63.0" y1="681.0" x2="258.0" y2="681.0" stroke-width="2.1"/>
<line x1="302.0" y1="681.0" x2="654.0" y2="681.0" stroke-width="2.1"/>
<line x1="63.0" y1="739.0" x2="490.0" y2="739.0" stroke-width="2.3"/>
<line x1="540.0" y1="739.0" x2="939.0" y2="739.0" stroke-width="2.3"/>
<line x1="660.0" y1="113.0" x2="654.0" y2="695.0" stroke-width="2.0"/>
<line x1="939.0" y1="616.0" x2="939.0" y2="756.0" stroke-width="2.2"/>
<line x1="936.0" y1="114.0" x2="936.0" y2="190.0" stroke-width="2.2"/>
<line x1="660.0" y1="131.0" x2="738.0" y2="131.0" stroke-width="2.2"/>
<line x1="801.0" y1="131.0" x2="936.0" y2="131.0" stroke-width="2.2"/>
<line x1="940.0" y1="190.5" x2="1015.0" y2="190.5" stroke-width="2.4"/>
<line x1="940.0" y1="391.0" x2="1013.0" y2="391.0" stroke-width="2.4"/>
<line x1="1007.0" y1="190.5" x2="1007.0" y2="266.0" stroke-width="2.0"/>
<line x1="1007.0" y1="305.0" x2="1007.0" y2="391.0" stroke-width="2.0"/>
</g>
<path d="M31.3 179.0 L34.3 190.0 L34.1 196.0 L32.4 199.0 L26.6 199.0 L24.9 196.0 L24.7 190.0 L27.7 179.0 Z" fill="#000"/>
<path d="M27.7 622.0 L24.7 611.0 L24.9 605.0 L26.6 602.0 L32.4 602.0 L34.1 605.0 L34.3 611.0 L31.3 622.0 Z" fill="#000"/>
<path d="M63.0 679.2 L74.0 676.2 L80.0 676.4 L83.0 678.1 L83.0 683.9 L80.0 685.6 L74.0 685.8 L63.0 682.8 Z" fill="#000"/>
<path d="M654.0 682.8 L643.0 685.8 L637.0 685.6 L634.0 683.9 L634.0 678.1 L637.0 676.4 L643.0 676.2 L654.0 679.2 Z" fill="#000"/>
<path d="M63.0 737.2 L74.0 734.2 L80.0 734.4 L83.0 736.1 L83.0 741.9 L80.0 743.6 L74.0 743.8 L63.0 740.8 Z" fill="#000"/>
<path d="M939.0 740.8 L928.0 743.8 L922.0 743.6 L919.0 741.9 L919.0 736.1 L922.0 734.4 L928.0 734.2 L939.0 737.2 Z" fill="#000"/>
<path d="M661.0 129.2 L672.0 126.2 L678.0 126.4 L681.0 128.1 L681.0 133.9 L678.0 135.6 L672.0 135.8 L661.0 132.8 Z" fill="#000"/>
<path d="M936.0 132.8 L925.0 135.8 L919.0 135.6 L916.0 133.9 L916.0 128.1 L919.0 126.4 L925.0 126.2 L936.0 129.2 Z" fill="#000"/>
<path d="M1008.8 191.0 L1011.8 202.0 L1011.6 208.0 L1009.9 211.0 L1004.1 211.0 L1002.4 208.0 L1002.2 202.0 L1005.2 191.0 Z" fill="#000"/>
<path d="M1005.2 391.0 L1002.2 380.0 L1002.4 374.0 L1004.1 371.0 L1009.9 371.0 L1011.6 374.0 L1011.8 380.0 L1008.8 391.0 Z" fill="#000"/>
<g stroke="#000" fill="none" stroke-width="2.2" stroke-linejoin="round">
<path d="M341 16.5 L318 16.5 Q314 16.5 313 20 L272 176"/>
<path d="M83 77.5 L57 77.5 Q54 78 54 82 L88 330"/>
<path d="M571 93.5 L551 93.5 Q547 93.5 546 97 L503 241"/>
<path d="M891 53 L870 53 Q866 53 866 57 L861 211"/>
<path d="M701 616 L695 616 Q692 615 691 612 L663 544"/>
<path d="M754 850 L732 850 Q729 850 727 847 L559 626"/>
<path d="M411 805 L392 805 Q389 805 389 802 L435 597"/>
<path d="M326 903.5 L305 903.5 Q302 903.5 302 900 L338 578"/>
<path d="M139 819 L120 819 Q117 819 117 816 L164.5 592"/>
</g>
<path d="M270.2 176.7 L268.9 165.4 L270.0 159.5 L272.1 156.8 L277.8 157.6 L279.0 160.9 L278.4 166.8 L273.8 177.3 Z" fill="#000"/>
<path d="M501.3 241.5 L501.1 230.1 L502.9 224.4 L505.2 221.9 L510.8 223.4 L511.7 226.7 L510.4 232.6 L504.7 242.5 Z" fill="#000"/>
<path d="M859.2 211.9 L856.6 200.8 L857.1 194.8 L858.9 191.9 L864.6 192.1 L866.2 195.2 L866.2 201.2 L862.8 212.1 Z" fill="#000"/>
<path d="M664.7 542.3 L671.6 551.4 L673.7 557.0 L673.2 560.4 L667.9 562.6 L665.2 560.5 L662.7 555.0 L661.3 543.7 Z" fill="#000"/>
<path d="M560.4 624.9 L569.5 631.8 L572.9 636.8 L573.4 640.2 L568.8 643.7 L565.7 642.3 L561.8 637.7 L557.6 627.1 Z" fill="#000"/>
<path d="M436.8 597.3 L437.6 609.2 L436.1 615.4 L433.9 618.2 L428.2 617.1 L427.2 613.7 L428.1 607.4 L433.2 596.7 Z" fill="#000"/>
<path d="M339.8 578.2 L341.2 590.1 L340.1 596.3 L338.0 599.2 L332.3 598.4 L331.1 595.1 L331.7 588.8 L336.2 577.8 Z" fill="#000"/>
<path d="M166.3 591.8 L166.6 607.0 L164.9 614.9 L162.5 618.6 L156.8 617.5 L155.9 613.3 L157.1 605.2 L162.7 591.2 Z" fill="#000"/>
<text class="t" transform="translate(347.60 28.00) scale(0.9159 1)" font-size="24.44" font-weight="normal" letter-spacing="1.71">FUEL</text>
<text class="t" transform="translate(426.80 28.00) scale(0.7800 1)" font-size="24.44" font-weight="normal" letter-spacing="1.71">(</text>
<text class="t" transform="translate(436.00 28.00) scale(0.9952 1)" font-size="24.44" font-weight="normal" letter-spacing="1.71">L</text>
<text class="t" transform="translate(457.00 28.00) scale(0.8183 1)" font-size="24.44" font-weight="normal" letter-spacing="1.71">H</text>
<text class="t" transform="translate(472.00 37.00) scale(1.0164 1)" font-size="23.04" font-weight="normal" letter-spacing="1.61">2</text>
<text class="t" transform="translate(488.80 28.00) scale(0.7800 1)" font-size="24.44" font-weight="normal" letter-spacing="1.71">)</text>
<text class="t" transform="translate(498.60 28.00) scale(0.9415 1)" font-size="23.74" font-weight="normal" letter-spacing="1.66">TANK</text>
<text class="t" transform="translate(88.70 85.80) scale(0.9044 1)" font-size="23.74" font-weight="normal" letter-spacing="1.66">PRESSURANT</text>
<text class="t" transform="translate(88.70 109.40) scale(0.8891 1)" font-size="24.44" font-weight="normal" letter-spacing="1.71">DIFFUSER</text>
<text class="t" transform="translate(577.00 102.50) scale(0.9376 1)" font-size="23.74" font-weight="normal" letter-spacing="1.66">OXIDIZER(</text>
<text class="t" transform="translate(703.00 102.50) scale(1.1383 1)" font-size="23.74" font-weight="normal" letter-spacing="1.66">L</text>
<text class="t" transform="translate(724.00 102.50) scale(0.8769 1)" font-size="23.74" font-weight="normal" letter-spacing="1.66">F</text>
<text class="t" transform="translate(737.50 109.60) scale(1.2500 1)" font-size="18.99" font-weight="normal" letter-spacing="1.33">2</text>
<text class="t" transform="translate(754.00 102.50) scale(0.8298 1)" font-size="23.74" font-weight="normal" letter-spacing="1.66">)</text>
<text class="t" transform="translate(769.50 102.50) scale(0.9039 1)" font-size="23.74" font-weight="normal" letter-spacing="1.66">TANK</text>
<text class="t" transform="translate(898.00 60.60) scale(0.9763 1)" font-size="22.91" font-weight="normal" letter-spacing="1.60">THRUST CHAMBERS (3)</text>
<text class="t" transform="translate(745.50 139.00) scale(0.9394 1)" font-size="25.84" font-weight="normal" letter-spacing="1.81">7'-6"</text>
<text class="n" transform="translate(982.00 290.60) scale(0.9272 1)" font-size="24.44" font-weight="normal" letter-spacing="2.44">5'4"D</text>
<text class="t" transform="translate(14.90 350.00) scale(0.8839 1)" font-size="23.18" font-weight="normal" letter-spacing="1.62">12'D</text>
<text class="t" transform="translate(280.00 266.60) scale(0.9083 1)" font-size="23.18" font-weight="normal" letter-spacing="1.62">160 PSIA</text>
<text class="t" transform="translate(497.60 321.00) scale(0.9175 1)" font-size="23.18" font-weight="normal" letter-spacing="1.62">170 PSIA</text>
<text class="t" transform="translate(273.30 533.50) scale(0.9179 1)" font-size="24.72" font-weight="normal" letter-spacing="1.73">350 PSIA</text>
<text class="t" transform="translate(401.00 574.30) scale(1.1457 1)" font-size="22.77" font-weight="normal" letter-spacing="0.46">4500</text>
<text class="t" transform="translate(403.00 596.80) scale(1.0064 1)" font-size="22.63" font-weight="normal" letter-spacing="1.58">PSIA</text>
<text class="t" transform="translate(702.90 622.00) scale(1.0217 1)" font-size="21.65" font-weight="normal" letter-spacing="1.52">THRUST VECTOR</text>
<text class="t" transform="translate(701.00 647.40) scale(1.0132 1)" font-size="21.65" font-weight="normal" letter-spacing="1.52">CONTROL GIMBAL</text>
<text class="t" transform="translate(704.40 672.00) scale(1.0668 1)" font-size="22.07" font-weight="normal" letter-spacing="1.54">ACTUATORS (6)</text>
<text class="t" transform="translate(264.60 690.80) scale(0.9214 1)" font-size="24.86" font-weight="normal" letter-spacing="1.74">16'</text>
<text class="t" transform="translate(496.00 750.20) scale(1.0806 1)" font-size="24.72" font-weight="normal" letter-spacing="1.73">24'</text>
<text class="t" transform="translate(141.00 830.00) scale(0.9671 1)" font-size="23.32" font-weight="normal" letter-spacing="1.63">INTERNAL</text>
<text class="t" transform="translate(141.00 853.70) scale(0.9870 1)" font-size="23.04" font-weight="normal" letter-spacing="1.61">TANK</text>
<text class="t" transform="translate(141.00 877.00) scale(0.9334 1)" font-size="23.04" font-weight="normal" letter-spacing="1.61">INSULATION</text>
<text class="t" transform="translate(418.00 814.40) scale(0.8924 1)" font-size="24.02" font-weight="normal" letter-spacing="1.68">HIGH-PRESSURE</text>
<text class="t" transform="translate(418.00 842.70) scale(0.9780 1)" font-size="23.74" font-weight="normal" letter-spacing="1.66">HELIUM BOTTLE</text>
<text class="t" transform="translate(756.70 860.90) scale(0.9237 1)" font-size="24.30" font-weight="normal" letter-spacing="1.70">INTERSTAGE CONNECTING SKIRT</text>
<text class="t" transform="translate(335.00 913.70) scale(0.9176 1)" font-size="24.44" font-weight="normal" letter-spacing="1.71">LIQUID-HYDROGEN</text>
<text class="t" transform="translate(335.00 937.60) scale(0.9396 1)" font-size="24.44" font-weight="normal" letter-spacing="1.71">PRESSURANT BOTTLE</text>
</svg></body></html>
